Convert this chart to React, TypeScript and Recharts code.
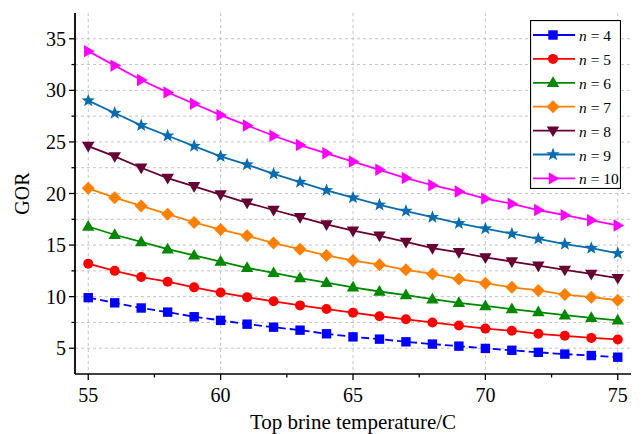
import React from 'react';
import { LineChart, Line, XAxis, YAxis, CartesianGrid, Legend } from 'recharts';

const temperatures = [55, 56, 57, 58, 59, 60, 61, 62, 63, 64, 65, 66, 67, 68, 69, 70, 71, 72, 73, 74, 75];
const gorN4 = [9.9, 9.4, 8.9, 8.5, 8.05, 7.7, 7.33, 7.04, 6.75, 6.4, 6.1, 5.88, 5.62, 5.4, 5.2, 4.98, 4.8, 4.6, 4.43, 4.29, 4.13];
const gorN5 = [13.2, 12.5, 11.9, 11.45, 10.9, 10.4, 9.95, 9.55, 9.15, 8.8, 8.45, 8.1, 7.8, 7.5, 7.2, 6.9, 6.7, 6.4, 6.2, 6.0, 5.85];
const gorN6 = [16.8, 16.0, 15.3, 14.6, 14.0, 13.4, 12.8, 12.3, 11.8, 11.35, 10.9, 10.5, 10.15, 9.75, 9.4, 9.1, 8.8, 8.5, 8.2, 7.95, 7.7];
const gorN7 = [20.5, 19.6, 18.8, 18.0, 17.2, 16.5, 15.9, 15.2, 14.6, 14.0, 13.5, 13.1, 12.6, 12.2, 11.7, 11.3, 10.9, 10.6, 10.2, 9.95, 9.65];
const gorN8 = [24.6, 23.6, 22.5, 21.5, 20.7, 19.9, 19.1, 18.4, 17.7, 17.0, 16.4, 15.9, 15.3, 14.7, 14.3, 13.8, 13.4, 13.0, 12.6, 12.2, 11.8];
const gorN9 = [29.0, 27.8, 26.6, 25.6, 24.6, 23.6, 22.8, 21.9, 21.1, 20.3, 19.6, 18.9, 18.3, 17.7, 17.1, 16.6, 16.1, 15.6, 15.1, 14.7, 14.2];
const gorN10 = [33.8, 32.4, 31.0, 29.8, 28.7, 27.6, 26.6, 25.6, 24.7, 23.9, 23.1, 22.3, 21.5, 20.8, 20.2, 19.5, 19.0, 18.4, 17.9, 17.4, 16.9];

const xMajorTicks = [55, 60, 65, 70, 75];
const xAllTicks = [55, 57.5, 60, 62.5, 65, 67.5, 70, 72.5, 75];
const yAllTicks = [5, 7.5, 10, 12.5, 15, 17.5, 20, 22.5, 25, 27.5, 30, 32.5, 35];

const seriesDefs = [
  { key: 'n4', n: '4', values: gorN4, color: '#0000ff', marker: 'square', dash: '8 4' },
  { key: 'n5', n: '5', values: gorN5, color: '#ff0000', marker: 'circle', dash: undefined },
  { key: 'n6', n: '6', values: gorN6, color: '#008800', marker: 'triUp', dash: undefined },
  { key: 'n7', n: '7', values: gorN7, color: '#ff8000', marker: 'diamond', dash: undefined },
  { key: 'n8', n: '8', values: gorN8, color: '#660033', marker: 'triDown', dash: undefined },
  { key: 'n9', n: '9', values: gorN9, color: '#0a6cb0', marker: 'star', dash: undefined },
  { key: 'n10', n: '10', values: gorN10, color: '#ff00ff', marker: 'triRight', dash: undefined },
];

const data = temperatures.map((t, i) => {
  const row: any = { t };
  seriesDefs.forEach((s) => { row[s.key] = s.values[i]; });
  return row;
});

const FONT = '"Liberation Serif", "Times New Roman", serif';
const textStyle = { fontFamily: FONT };

function starPoints(cx: number, cy: number, ro: number, ri: number) {
  const pts: string[] = [];
  for (let k = 0; k < 10; k++) {
    const r = k % 2 === 0 ? ro : ri;
    const a = -Math.PI / 2 + (k * Math.PI) / 5;
    pts.push(`${cx + r * Math.cos(a)},${cy + r * Math.sin(a)}`);
  }
  return pts.join(' ');
}

function Marker({ type, cx, cy, color }: { type: string; cx: number; cy: number; color: string }) {
  switch (type) {
    case 'square':
      return <rect x={cx - 4.7} y={cy - 4.7} width={9.4} height={9.4} fill={color} />;
    case 'circle':
      return <circle cx={cx} cy={cy} r={5} fill={color} />;
    case 'triUp':
      return <polygon points={`${cx},${cy - 6.5} ${cx + 6.2},${cy + 4.2} ${cx - 6.2},${cy + 4.2}`} fill={color} />;
    case 'diamond':
      return <polygon points={`${cx},${cy - 6.5} ${cx + 6.5},${cy} ${cx},${cy + 6.5} ${cx - 6.5},${cy}`} fill={color} />;
    case 'triDown':
      return <polygon points={`${cx},${cy + 6.5} ${cx + 6.2},${cy - 4.2} ${cx - 6.2},${cy - 4.2}`} fill={color} />;
    case 'star':
      return <polygon points={starPoints(cx, cy, 7, 2.9)} fill={color} />;
    case 'triRight':
      return <polygon points={`${cx + 6.5},${cy} ${cx - 4.2},${cy - 6.2} ${cx - 4.2},${cy + 6.2}`} fill={color} />;
    default:
      return null;
  }
}

const LeftTick = (props: any) => {
  const { x, y, payload } = props;
  const v = payload.value;
  const major = v % 5 === 0;
  return (
    <g>
      <line x1={x} x2={x - (major ? 6 : 3.5)} y1={y} y2={y} stroke="#000" strokeWidth={1.3} />
      {major && (
        <text x={x - 9} y={y} textAnchor="end" dominantBaseline="central" style={textStyle} fontSize={20} fill="#000">
          {v}
        </text>
      )}
    </g>
  );
};

const RightTick = (props: any) => {
  const { x, y, payload } = props;
  const major = payload.value % 5 === 0;
  return <line x1={x} x2={x - (major ? 6 : 3.5)} y1={y} y2={y} stroke="#000" strokeWidth={1.3} />;
};

const BottomTick = (props: any) => {
  const { x, y, payload } = props;
  const v = payload.value;
  const major = v % 5 === 0;
  return (
    <g>
      <line x1={x} x2={x} y1={y} y2={y + (major ? 6 : 3.5)} stroke="#000" strokeWidth={1.3} />
      {major && (
        <text x={x} y={y + 21} textAnchor="middle" dominantBaseline="central" style={textStyle} fontSize={20} fill="#000">
          {v}
        </text>
      )}
    </g>
  );
};

const TopTick = (props: any) => {
  const { x, y, payload } = props;
  const major = payload.value % 5 === 0;
  return <line x1={x} x2={x} y1={y} y2={y + (major ? 6 : 3.5)} stroke="#000" strokeWidth={1.3} />;
};

const LegendBox = () => {
  const rowH = 23.9;
  return (
    <svg width={91} height={169} style={{ display: 'block' }}>
      <rect x={0.5} y={0.5} width={90} height={168} fill="#fff" stroke="#000" strokeWidth={1.2} />
      {seriesDefs.map((s, i) => {
        const cy = 15 + i * rowH;
        return (
          <g key={s.key}>
            <line x1={3} x2={45} y1={cy} y2={cy} stroke={s.color} strokeWidth={1.8} />
            <Marker type={s.marker} cx={23} cy={cy} color={s.color} />
            <text x={49} y={cy} dominantBaseline="central" style={{ fontFamily: FONT, fontSize: 15.5 }} fill="#000">
              <tspan style={{ fontStyle: 'italic' }}>n</tspan>
              <tspan>{' = ' + s.n}</tspan>
            </text>
          </g>
        );
      })}
    </svg>
  );
};

export default function App() {
  return (
    <div style={{ position: 'absolute', left: 0, top: 0, width: 642, height: 434, background: '#fff' }}>
      <LineChart width={642} height={434} data={data} margin={{ top: 13, right: 11, bottom: 0, left: 0 }}>
        <CartesianGrid
          stroke="#c4c4c4"
          strokeDasharray="3 3"
          verticalValues={xMajorTicks}
          horizontalValues={yAllTicks}
        />
        <XAxis
          dataKey="t"
          type="number"
          domain={[54.5, 75.5]}
          ticks={xAllTicks}
          interval={0}
          height={60}
          tickSize={0}
          tickMargin={0}
          tickLine={false}
          axisLine={{ stroke: '#000', strokeWidth: 1.5 }}
          tick={<BottomTick />}
          label={{
            content: (p: any) => {
              const vb = p.viewBox;
              return (
                <text x={vb.x + vb.width / 2} y={vb.y + 48} textAnchor="middle" dominantBaseline="central" style={textStyle} fontSize={21} fill="#000">
                  Top brine temperature/C
                </text>
              );
            },
          }}
        />
        <XAxis
          xAxisId="top"
          dataKey="t"
          type="number"
          orientation="top"
          domain={[54.5, 75.5]}
          ticks={xAllTicks}
          interval={0}
          height={0}
          tickSize={0}
          tickMargin={0}
          tickLine={false}
          axisLine={{ stroke: '#000', strokeWidth: 1.5 }}
          tick={<TopTick />}
        />
        <YAxis
          type="number"
          domain={[2.5, 37.5]}
          ticks={yAllTicks}
          interval={0}
          width={75}
          tickSize={0}
          tickMargin={0}
          tickLine={false}
          axisLine={{ stroke: '#000', strokeWidth: 1.8 }}
          tick={<LeftTick />}
          label={{
            content: (p: any) => {
              const vb = p.viewBox;
              const cy = vb.y + vb.height / 2;
              return (
                <text x={22} y={cy} transform={`rotate(-90 22 ${cy})`} textAnchor="middle" dominantBaseline="central" style={textStyle} fontSize={20} fill="#000">
                  GOR
                </text>
              );
            },
          }}
        />
        <YAxis
          yAxisId="right"
          orientation="right"
          type="number"
          domain={[2.5, 37.5]}
          ticks={yAllTicks}
          interval={0}
          width={0}
          tickSize={0}
          tickMargin={0}
          tickLine={false}
          axisLine={{ stroke: '#000', strokeWidth: 1.5 }}
          tick={<RightTick />}
        />
        {seriesDefs.map((s) => (
          <Line
            key={s.key}
            dataKey={s.key}
            name={`n = ${s.n}`}
            stroke={s.color}
            strokeWidth={1.8}
            strokeDasharray={s.dash}
            isAnimationActive={false}
            dot={(p: any) => <Marker key={`${s.key}-${p.index}`} type={s.marker} cx={p.cx} cy={p.cy} color={s.color} />}
            activeDot={false}
          />
        ))}
        <Legend
          layout="horizontal"
          align="center"
          verticalAlign="middle"
          content={() => <LegendBox />}
          wrapperStyle={{ position: 'absolute', left: 530, top: 20, width: 91, height: 169 }}
        />
      </LineChart>
    </div>
  );
}
